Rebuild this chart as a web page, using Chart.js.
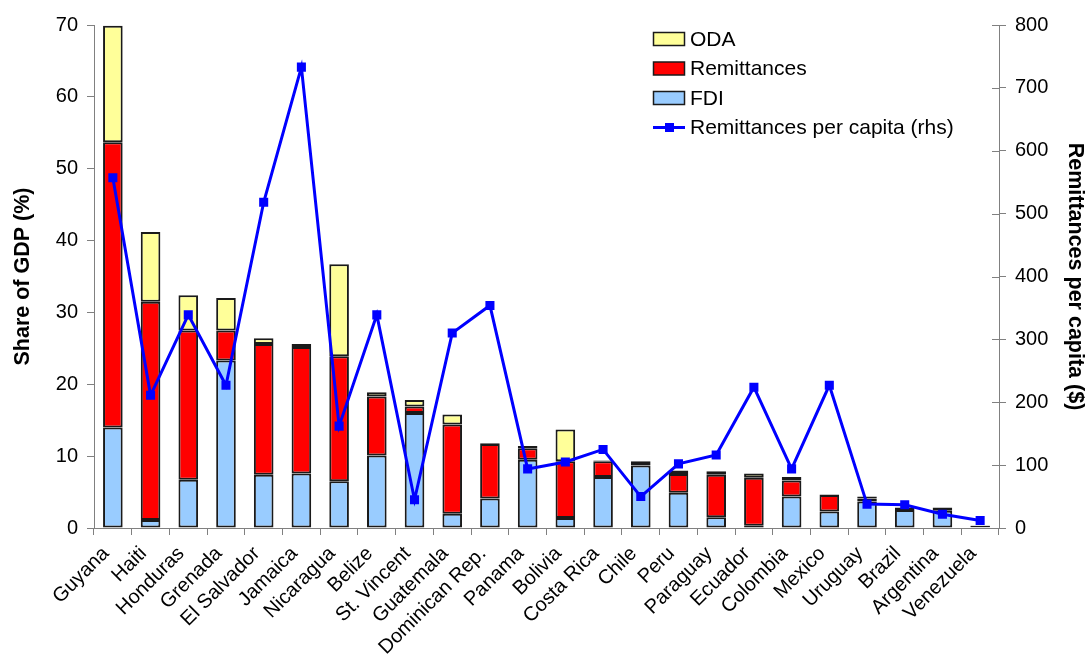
<!DOCTYPE html>
<html>
<head>
<meta charset="utf-8">
<script src="https://cdn.jsdelivr.net/npm/chart.js@4/dist/chart.umd.min.js"></script>
<style>
  html, body { margin: 0; padding: 0; background: #fff; }
  #wrap { width: 1088px; height: 666px; }
</style>
</head>
<body>
<div id="wrap"><canvas id="c" width="1088" height="666"></canvas></div>
<script>
// Capital inflows to Latin America and the Caribbean, share of GDP, and remittances per head
const countries = ['Guyana', 'Haiti', 'Honduras', 'Grenada', 'El Salvador', 'Jamaica', 'Nicaragua', 'Belize',
  'St. Vincent', 'Guatemala', 'Dominican Rep.', 'Panama', 'Bolivia', 'Costa Rica', 'Chile', 'Peru',
  'Paraguay', 'Ecuador', 'Colombia', 'Mexico', 'Uruguay', 'Brazil', 'Argentina', 'Venezuela'];

const fdi = [14.0, 1.1, 6.7, 23.3, 7.4, 7.6, 6.5, 10.1, 16.0, 2.0, 4.1, 9.5,
  1.4, 7.1, 8.7, 4.9, 1.5, 0.3, 4.4, 2.3, 3.7, 2.5, 2.4, 0.1];
const remittances = [39.7, 30.4, 20.8, 4.2, 18.2, 17.6, 17.4, 8.2, 0.9, 12.4, 7.6, 1.6,
  7.9, 2.2, 0.5, 2.6, 5.9, 6.7, 2.2, 2.3, 0.4, 0.3, 0.4, 0.2];
const oda = [16.2, 9.7, 4.9, 4.5, 0.8, 0.4, 12.8, 0.6, 0.9, 1.4, 0.1, 0.3,
  4.4, 0.1, 0.1, 0.5, 0.5, 0.6, 0.5, 0.05, 0.3, 0.05, 0.05, 0.05];
const remittancesPerCapita = [557, 211, 339, 227, 518, 733, 162, 339, 45, 310, 354, 94,
  105, 125, 50, 102, 116, 224, 94, 227, 38, 37, 22, 12];

const shareTicks = [0, 10, 20, 30, 40, 50, 60, 70];
const perCapitaTicks = [0, 100, 200, 300, 400, 500, 600, 700, 800];

const FONT = "'Liberation Sans', Arial, sans-serif";
const AXIS_GREY = '#808080';

// Legend drawn inside the plot, top right, in a single column
const boxLegend = {
  id: 'boxLegend',
  afterDatasetsDraw(chart) {
    const { ctx, chartArea } = chart;
    const order = [2, 1, 0, 3];
    const x0 = chartArea.right - 346;
    let y = chartArea.top + 14;
    ctx.save();
    ctx.font = '21px ' + FONT;
    ctx.textBaseline = 'middle';
    ctx.textAlign = 'left';
    order.forEach(i => {
      const ds = chart.data.datasets[i];
      if (ds.type === 'line') {
        ctx.strokeStyle = ds.borderColor;
        ctx.lineWidth = 3;
        ctx.beginPath();
        ctx.moveTo(x0, y);
        ctx.lineTo(x0 + 32, y);
        ctx.stroke();
        ctx.fillStyle = ds.pointBackgroundColor;
        ctx.fillRect(x0 + 12, y - 4.5, 9, 9);
      } else {
        ctx.fillStyle = ds.backgroundColor;
        ctx.fillRect(x0 + 0.5, y - 6.5, 31, 13);
        ctx.strokeStyle = '#1a1a1a';
        ctx.lineWidth = 1.5;
        ctx.strokeRect(x0 + 0.5, y - 6.5, 31, 13);
      }
      ctx.fillStyle = '#000';
      ctx.fillText(ds.label, x0 + 37, y + 1);
      y += 29.5;
    });
    ctx.restore();
  }
};

// Right-hand axis ticks cross the axis line
const crossTicks = {
  id: 'crossTicks',
  afterDraw(chart) {
    const s = chart.scales.y1;
    const { ctx } = chart;
    ctx.save();
    ctx.strokeStyle = AXIS_GREY;
    ctx.lineWidth = 1;
    s.ticks.forEach(t => {
      const py = Math.round(s.getPixelForValue(t.value)) + 0.5;
      ctx.beginPath();
      ctx.moveTo(s.left - 7, py);
      ctx.lineTo(s.left, py);
      ctx.stroke();
    });
    ctx.restore();
  }
};

const barBase = { type: 'bar', borderColor: '#1a1a1a', borderWidth: 2, borderSkipped: false,
  yAxisID: 'y', stack: 'gdp', order: 2, barPercentage: 0.52, categoryPercentage: 1.0 };

new Chart(document.getElementById('c'), {
  data: {
    labels: countries,
    datasets: [
      Object.assign({}, barBase, { label: 'FDI', data: fdi, backgroundColor: '#99CCFF' }),
      Object.assign({}, barBase, { label: 'Remittances', data: remittances, backgroundColor: '#FF0000' }),
      Object.assign({}, barBase, { label: 'ODA', data: oda, backgroundColor: '#FFFF99' }),
      {
        type: 'line', label: 'Remittances per capita (rhs)', data: remittancesPerCapita,
        yAxisID: 'y1', order: 0, borderColor: '#0000FF', borderWidth: 3,
        pointStyle: 'rect', pointRadius: 6.4, pointBackgroundColor: '#0000FF',
        pointBorderColor: '#0000FF', pointBorderWidth: 0, tension: 0, fill: false
      }
    ]
  },
  options: {
    responsive: false,
    animation: false,
    devicePixelRatio: 1,
    layout: { padding: { top: 25, bottom: 0, left: 0, right: 0 } },
    plugins: { legend: { display: false }, tooltip: { enabled: false } },
    scales: {
      x: {
        stacked: true,
        offset: true,
        grid: { display: true, drawOnChartArea: false, offset: true, tickLength: 7, color: AXIS_GREY },
        border: { color: AXIS_GREY },
        ticks: { autoSkip: false, maxRotation: 45, minRotation: 45, padding: 7, labelOffset: -7,
          color: '#000', font: { family: FONT, size: 20 } },
        afterFit(s) { s.height = 138; }
      },
      y: {
        position: 'left',
        stacked: true,
        min: 0, max: 70,
        afterBuildTicks(s) { s.ticks = shareTicks.map(v => ({ value: v })); },
        grid: { drawOnChartArea: false, tickLength: 7, color: AXIS_GREY },
        border: { color: AXIS_GREY },
        ticks: { padding: 9, color: '#000', font: { family: FONT, size: 20 } },
        title: { display: true, text: 'Share of GDP (%)', color: '#000',
          font: { family: FONT, size: 21.5, weight: 'bold' }, padding: { top: 10, bottom: 0 } },
        afterFit(s) { s.width = 94; }
      },
      y1: {
        position: 'right',
        min: 0, max: 800,
        afterBuildTicks(s) { s.ticks = perCapitaTicks.map(v => ({ value: v })); },
        grid: { drawOnChartArea: false, tickLength: 7, color: AXIS_GREY },
        border: { color: AXIS_GREY },
        ticks: { padding: 9, color: '#000', font: { family: FONT, size: 20 } },
        title: { display: true, text: 'Remittances per capita ($)', color: '#000',
          font: { family: FONT, size: 21.5, weight: 'bold' }, padding: { top: 0, bottom: 0 } },
        afterFit(s) { s.width = 89; }
      }
    }
  },
  plugins: [boxLegend, crossTicks]
});
</script>
</body>
</html>
